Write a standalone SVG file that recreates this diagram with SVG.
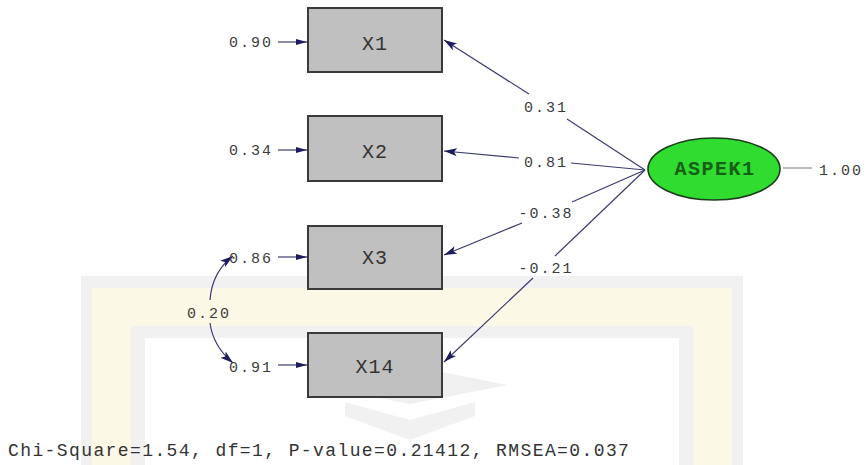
<svg xmlns="http://www.w3.org/2000/svg" width="867" height="465" viewBox="0 0 867 465">
<defs>
<style>
.num{font-family:"Liberation Mono","DejaVu Sans Mono",monospace;font-size:15px;letter-spacing:2px;fill:#3c3c3c;text-anchor:middle}
.lbl{font-family:"Liberation Mono","DejaVu Sans Mono",monospace;font-size:20px;letter-spacing:1px;fill:#333333;text-anchor:middle}
.box{fill:#c0c0c0;stroke:#3a3a3a;stroke-width:2}
.ln{fill:none;stroke:#3b3b70;stroke-width:1.2}
.wg{fill:#f1f1f1}
.wc{fill:#fcf8e6}
</style>
<marker id="ah" markerUnits="userSpaceOnUse" markerWidth="14" markerHeight="10" refX="13" refY="4" orient="auto">
<path d="M0,0 L13,4 L0,8 L3,4 z" fill="#1c1c5e"/>
</marker>
<marker id="ahs" markerUnits="userSpaceOnUse" markerWidth="12" markerHeight="8" refX="11" refY="3" orient="auto">
<path d="M0,0 L11,3 L0,6 z" fill="#1c1c5e"/>
</marker>
</defs>
<rect width="867" height="465" fill="#ffffff"/>
<g id="watermark">
<rect class="wg" x="81" y="276" width="662" height="12"/>
<rect class="wg" x="81" y="276" width="11" height="189"/>
<rect class="wg" x="732" y="276" width="11" height="189"/>
<rect class="wc" x="92" y="288" width="640" height="38"/>
<rect class="wc" x="92" y="288" width="39" height="177"/>
<rect class="wc" x="693" y="288" width="39" height="177"/>
<rect class="wg" x="131" y="326" width="562" height="12"/>
<rect class="wg" x="131" y="326" width="14" height="139"/>
<rect class="wg" x="679" y="326" width="14" height="139"/>
<polygon points="313,385 410,366 508,385 410,404" fill="#f0f0f0"/>
<polygon points="345,402 410,420 475,402 475,416 410,440 345,416" fill="#f1f1f1"/>
</g>
<g id="connectors">
<line class="ln" x1="278" y1="42" x2="307" y2="42" marker-end="url(#ahs)"/>
<line class="ln" x1="278" y1="150" x2="307" y2="150" marker-end="url(#ahs)"/>
<line class="ln" x1="278" y1="257" x2="307" y2="257" marker-end="url(#ahs)"/>
<line class="ln" x1="278" y1="365" x2="307" y2="365" marker-end="url(#ahs)"/>
<line class="ln" x1="645" y1="170" x2="567" y2="119"/>
<line class="ln" x1="529" y1="94" x2="444" y2="40" marker-end="url(#ah)"/>
<line class="ln" x1="645" y1="170" x2="571" y2="163"/>
<line class="ln" x1="519" y1="158" x2="444" y2="151" marker-end="url(#ah)"/>
<line class="ln" x1="645" y1="170" x2="572" y2="202"/>
<line class="ln" x1="522" y1="223" x2="444" y2="255" marker-end="url(#ah)"/>
<line class="ln" x1="645" y1="170" x2="555" y2="256"/>
<line class="ln" x1="533" y1="278" x2="444" y2="362" marker-end="url(#ah)"/>
<path class="ln" d="M210,300 Q212,272 233,256" marker-end="url(#ah)"/>
<path class="ln" d="M210,323 Q213,346 233,363" marker-end="url(#ah)"/>
<line x1="783" y1="168" x2="812" y2="168" stroke="#777777" stroke-width="1"/>
</g>
<g id="X1">
<rect class="box" x="308" y="8" width="134" height="64"/>
<text class="lbl" x="375" y="50">X1</text>
<text class="num" x="251" y="47">0.90</text>
</g>
<g id="X2">
<rect class="box" x="308" y="116" width="134" height="65"/>
<text class="lbl" x="375" y="158">X2</text>
<text class="num" x="251" y="155">0.34</text>
</g>
<g id="X3">
<rect class="box" x="308" y="226" width="134" height="63"/>
<text class="lbl" x="375" y="264">X3</text>
<text class="num" x="251" y="263">0.86</text>
</g>
<g id="X14">
<rect class="box" x="308" y="333" width="134" height="64"/>
<text class="lbl" x="375" y="373">X14</text>
<text class="num" x="251" y="372">0.91</text>
</g>
<g id="ASPEK1">
<ellipse cx="714" cy="169" rx="66" ry="31" fill="#2fdc2f" stroke="#1d3d1d" stroke-width="1.6"/>
<text x="715" y="175" font-family="'Liberation Mono','DejaVu Sans Mono',monospace" font-size="20" letter-spacing="1.5" font-weight="bold" fill="#156015" text-anchor="middle">ASPEK1</text>
<text class="num" x="841" y="175">1.00</text>
</g>
<g id="labels">
<text class="num" x="546" y="112">0.31</text>
<text class="num" x="546" y="167">0.81</text>
<text class="num" x="546" y="218">-0.38</text>
<text class="num" x="546" y="273">-0.21</text>
<text class="num" x="209" y="318">0.20</text>
</g>
<text x="8" y="456" font-family="'Liberation Mono','DejaVu Sans Mono',monospace" font-size="18" letter-spacing="1.4" fill="#333333">Chi-Square=1.54, df=1, P-value=0.21412, RMSEA=0.037</text>
</svg>
